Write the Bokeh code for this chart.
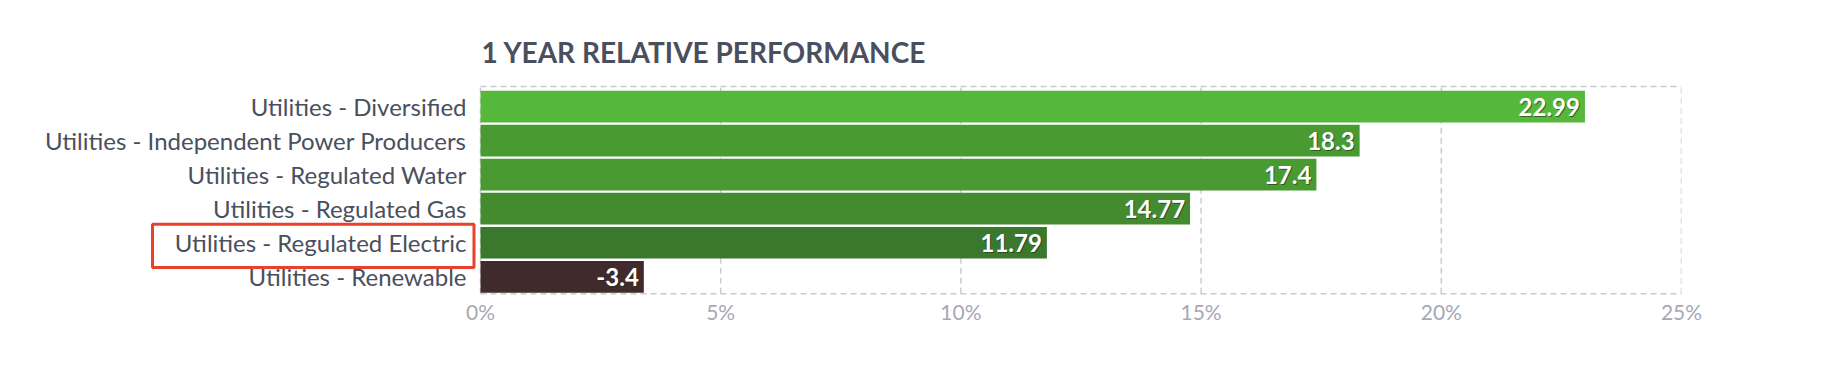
from bokeh.plotting import figure
from bokeh.models import ColumnDataSource, FixedTicker, CustomJSTickFormatter, Range1d
from bokeh.core.properties import value
from bokeh.embed import file_html
from bokeh.resources import INLINE

# ---- data (top to bottom as shown) ----
categories = [
    "Utilities - Diversified",
    "Utilities - Independent Power Producers",
    "Utilities - Regulated Water",
    "Utilities - Regulated Gas",
    "Utilities - Regulated Electric",
    "Utilities - Renewable",
]
values = [22.99, 18.3, 17.4, 14.77, 11.79, -3.4]
bar_colors = ["#55b83a", "#4a9a32", "#4a9a32", "#448b30", "#3a782d", "#412a2b"]
x_ticks = [0, 5, 10, 15, 20, 25]
highlighted = "Utilities - Regulated Electric"

# ---- style / layout ----
FONT = "Lato"
TEXT_COLOR = "#4a4f5e"
GRID_COLOR = "#cbcbd3"
LABEL_STANDOFF = 14
PLOT_LEFT_PX = 480          # pixel where the value 0 sits
PLOT_WIDTH_PX = 1201        # pixels spanned by 0 .. max tick
X_MAX = x_ticks[-1]
PX_PER_UNIT = PLOT_WIDTH_PX / X_MAX

n = len(categories)
ypos = [n - i - 0.5 for i in range(n)]          # band centres, top category highest
TOP_LINE = n + 0.09                              # dashed top border (a little above first band)

src = ColumnDataSource(dict(
    y=ypos,
    cat=categories,
    length=[abs(v) for v in values],
    label=[str(v) for v in values],
    color=bar_colors,
))

p = figure(
    width=1818, height=364,
    x_range=Range1d(-PLOT_LEFT_PX / PX_PER_UNIT, X_MAX),
    y_range=Range1d(-0.05, n + 0.15),
    output_backend="svg", toolbar_location=None,
    min_border_left=0, min_border_right=1818 - PLOT_LEFT_PX - PLOT_WIDTH_PX,
    min_border_top=84, min_border_bottom=69,
    title="1 YEAR RELATIVE PERFORMANCE",
)
p.outline_line_color = None
p.grid.visible = False
p.yaxis.visible = False

# dashed grid: vertical lines at ticks, horizontal top & bottom borders
dash = "6 4"
p.segment(x0=x_ticks, x1=x_ticks, y0=[0] * len(x_ticks), y1=[TOP_LINE] * len(x_ticks),
          line_color=GRID_COLOR, line_dash=dash, line_width=1.5)
p.segment(x0=[0, 0], x1=[X_MAX, X_MAX], y0=[0, TOP_LINE], y1=[0, TOP_LINE],
          line_color=GRID_COLOR, line_dash=dash, line_width=1.5)

# bars
p.hbar(y="y", right="length", left=0, height=0.932, color="color", source=src, line_color=None)

# value labels with shadow
p.text(x="length", y="y", text="label", source=src, x_offset=-4, y_offset=1.5,
       text_align="right", text_baseline="middle", text_color="#1c2a12", text_alpha=0.6,
       text_font=value(FONT), text_font_style="bold", text_font_size="24px")
p.text(x="length", y="y", text="label", source=src, x_offset=-5, y_offset=0,
       text_align="right", text_baseline="middle", text_color="white",
       text_font=value(FONT), text_font_style="bold", text_font_size="24px")

# category labels
p.text(x=0, y="y", text="cat", source=src, x_offset=-LABEL_STANDOFF,
       text_align="right", text_baseline="middle", text_color=TEXT_COLOR,
       text_font=value(FONT), text_font_size="24px")

# highlight box around the highlighted category label
hy = ypos[categories.index(highlighted)]
p.quad(left=-(PLOT_LEFT_PX - 152) / PX_PER_UNIT, right=-6.5 / PX_PER_UNIT,
       bottom=hy - 0.73, top=hy + 0.545,
       fill_color=None, line_color="#e8432a", line_width=3)

# title
p.title.text_font = FONT
p.title.text_font_size = "28px"
p.title.text_font_style = "bold"
p.title.text_color = TEXT_COLOR
p.title.align = "left"
p.title.offset = PLOT_LEFT_PX + 1
p.title.standoff = 31

# x axis
p.xaxis.ticker = FixedTicker(ticks=x_ticks)
p.xaxis.formatter = CustomJSTickFormatter(code="return tick + '%'")
p.xaxis.axis_line_color = None
p.xaxis.major_tick_line_color = None
p.xaxis.major_tick_out = 0
p.xaxis.major_tick_in = 0
p.xaxis.minor_tick_line_color = None
p.xaxis.major_label_text_font = FONT
p.xaxis.major_label_text_font_size = "21px"
p.xaxis.major_label_text_color = "#a8a8b2"
p.xaxis.major_label_standoff = 3

p.background_fill_color = "white"
p.border_fill_color = "white"

open("out.html", "w").write(file_html(p, INLINE))
